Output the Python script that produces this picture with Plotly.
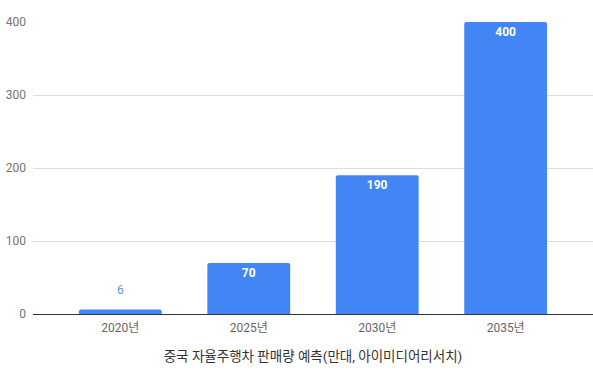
import plotly.graph_objects as go

categories = ["2020년", "2025년", "2030년", "2035년"]
values = [6, 70, 190, 400]
x_title = "중국 자율주행차 판매량 예측(만대, 아이미디어리서치)"
y_ticks = [0, 100, 200, 300, 400]

BAR = "#4285F4"
FONT = "Roboto, 'Noto Sans CJK KR', sans-serif"
INSIDE_MIN = 30

inside_text = [str(v) if v >= INSIDE_MIN else "" for v in values]

fig = go.Figure(go.Bar(
    x=categories,
    y=values,
    text=inside_text,
    textposition="inside",
    insidetextanchor="end",
    textfont=dict(family=FONT, size=12, color="#ffffff", weight="bold"),
    marker=dict(color=BAR, cornerradius=2, line=dict(width=0)),
    cliponaxis=False,
    hoverinfo="skip",
))

for c, v in zip(categories, values):
    if v < INSIDE_MIN:
        fig.add_annotation(
            x=c, y=v, text=str(v), showarrow=False,
            yanchor="bottom", yshift=11,
            font=dict(family=FONT, size=12, color="#5b95f5"),
        )

fig.update_layout(
    width=593, height=372,
    margin=dict(l=33, r=0, t=22, b=58),
    paper_bgcolor="white", plot_bgcolor="white",
    bargap=0.355,
    showlegend=False,
    font=dict(family=FONT, size=12, color="#757575"),
)
fig.update_xaxes(
    range=[-0.68, 3.68],
    automargin=False,
    showgrid=False,
    showline=True, linecolor="#333333", linewidth=1,
    ticks="", tickfont=dict(size=12, color="#666666"),
    ticklabelstandoff=3,
    title=dict(text=x_title, font=dict(size=13.5, color="#333333"), standoff=17),
)
fig.update_yaxes(
    range=[0, 400],
    automargin=False,
    tickvals=y_ticks,
    showgrid=True, gridcolor="#dddddd", gridwidth=1,
    zeroline=False,
    tickfont=dict(size=12, color="#757575"),
    ticklabelstandoff=6,
)

fig.write_html(
    "out.html",
    config={"displayModeBar": False},
    post_script="document.body.style.margin='0';document.body.style.overflow='hidden';",
)
